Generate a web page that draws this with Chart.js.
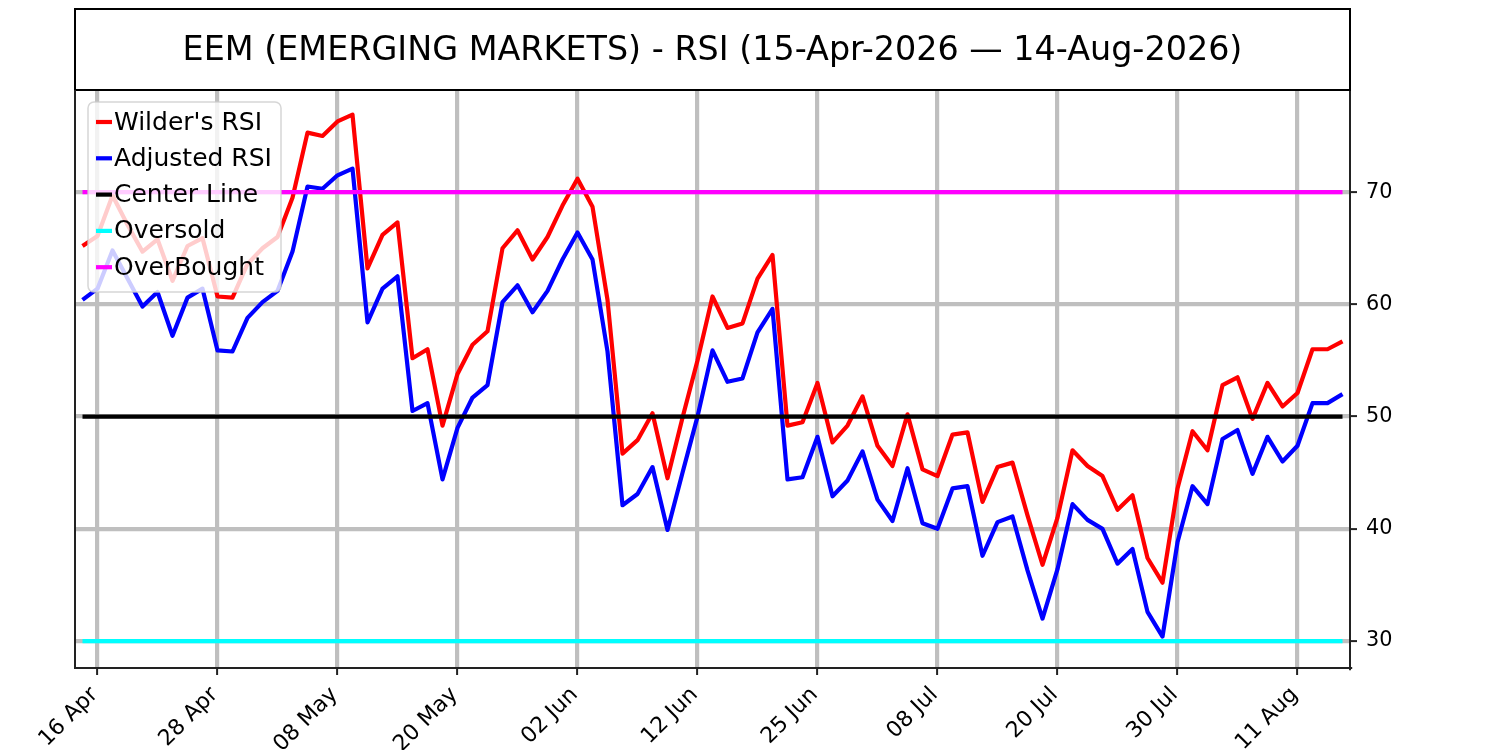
<!DOCTYPE html>
<html>
<head>
<meta charset="utf-8">
<script src="https://cdn.jsdelivr.net/npm/chart.js@4.4.1/dist/chart.umd.min.js"></script>
<style>
  body { margin: 0; background: #fff; }
  #wrap { width: 1500px; height: 750px; }
</style>
</head>
<body>
<div id="wrap"><canvas id="mycanvas" width="1500" height="750"></canvas></div>
<script>
// trading days, 15-Apr-2026 .. 14-Aug-2026
var days = [
  '15 Apr','16 Apr','17 Apr','20 Apr','21 Apr','22 Apr','23 Apr','24 Apr','27 Apr','28 Apr','29 Apr','30 Apr',
  '01 May','04 May','05 May','06 May','07 May','08 May','11 May','12 May','13 May','14 May','15 May','18 May',
  '19 May','20 May','21 May','22 May','26 May','27 May','28 May','29 May',
  '01 Jun','02 Jun','03 Jun','04 Jun','05 Jun','08 Jun','09 Jun','10 Jun','11 Jun','12 Jun','15 Jun','16 Jun',
  '17 Jun','18 Jun','22 Jun','23 Jun','24 Jun','25 Jun','26 Jun','29 Jun','30 Jun',
  '01 Jul','02 Jul','06 Jul','07 Jul','08 Jul','09 Jul','10 Jul','13 Jul','14 Jul','15 Jul','16 Jul','17 Jul',
  '20 Jul','21 Jul','22 Jul','23 Jul','24 Jul','27 Jul','28 Jul','29 Jul','30 Jul','31 Jul',
  '03 Aug','04 Aug','05 Aug','06 Aug','07 Aug','10 Aug','11 Aug','12 Aug','13 Aug','14 Aug'
];
var tickLabels = ['16 Apr','28 Apr','08 May','20 May','02 Jun','12 Jun','25 Jun','08 Jul','20 Jul','30 Jul','11 Aug'];

var wilderRsi = [
  65.2, 66.1, 69.7, 67.1, 64.7, 65.8, 62.1, 65.2, 65.9, 60.7, 60.6, 63.6,
  65.0, 66.0, 69.5, 75.3, 75.0, 76.3, 76.9, 63.2, 66.2, 67.3, 55.2, 56.0,
  49.2, 53.8, 56.4, 57.6, 65.0, 66.6, 64.0, 66.0,
  68.8, 71.2, 68.7, 60.4, 46.7, 47.9, 50.3, 44.5, 49.9, 55.0, 60.7, 57.9,
  58.3, 62.3, 64.4, 49.2, 49.5, 53.0, 47.7, 49.2, 51.8,
  47.4, 45.6, 50.2, 45.3, 44.7, 48.4, 48.6, 42.4, 45.5, 45.9, 41.2, 36.8,
  41.0, 47.0, 45.6, 44.7, 41.7, 43.0, 37.4, 35.2, 43.6, 48.7,
  47.0, 52.8, 53.5, 49.8, 53.0, 50.9, 52.1, 56.0, 56.0, 56.7
];
var adjustedRsi = [
  60.4, 61.4, 64.8, 62.3, 59.8, 61.1, 57.2, 60.6, 61.4, 55.9, 55.8, 58.8,
  60.2, 61.2, 64.7, 70.5, 70.3, 71.5, 72.1, 58.4, 61.4, 62.5, 50.5, 51.2,
  44.4, 49.0, 51.7, 52.8, 60.2, 61.7, 59.3, 61.2,
  64.0, 66.4, 64.0, 55.8, 42.1, 43.1, 45.5, 39.9, 45.0, 50.0, 55.9, 53.1,
  53.4, 57.5, 59.6, 44.4, 44.6, 48.2, 42.9, 44.3, 46.9,
  42.6, 40.7, 45.4, 40.5, 40.0, 43.6, 43.8, 37.6, 40.6, 41.1, 36.3, 32.0,
  36.4, 42.2, 40.8, 40.0, 36.9, 38.2, 32.6, 30.4, 38.8, 43.8,
  42.2, 48.0, 48.8, 44.9, 48.2, 46.0, 47.4, 51.2, 51.2, 52.0
];
var centerLevel = 50;
var oversoldLevel = 30;
var overboughtLevel = 70;
var yTicks = [30, 40, 50, 60, 70];

var titleText = 'EEM (EMERGING MARKETS) - RSI (15-Apr-2026 \u2014 14-Aug-2026)';

Chart.defaults.font.family = 'DejaVu Sans';
Chart.defaults.font.size = 20;
Chart.defaults.color = '#000';

function flat(v) {
  return days.map(function() { return v; });
}

function isTickDay(idx) {
  return tickLabels.indexOf(days[idx]) !== -1;
}

// title box, frame and the legend drawn inside the plot
var decorations = {
  id: 'decorations',
  afterDraw: function(chart) {
    var c = chart.ctx, a = chart.chartArea;
    c.save();
    // title box
    c.strokeStyle = '#000';
    c.lineWidth = 2;
    c.strokeRect(a.left, 9, a.right - a.left, a.top - 9);
    c.fillStyle = '#000';
    c.font = '33.4px "DejaVu Sans"';
    c.textAlign = 'center';
    c.textBaseline = 'middle';
    c.fillText(titleText, (a.left + a.right) / 2, 51);
    // left spine
    c.strokeStyle = '#222';
    c.beginPath();
    c.moveTo(a.left, a.top);
    c.lineTo(a.left, a.bottom);
    c.stroke();

    // legend
    var x = 88, y = 102, w = 193, h = 190, r = 6;
    c.beginPath();
    c.moveTo(x + r, y);
    c.arcTo(x + w, y, x + w, y + h, r);
    c.arcTo(x + w, y + h, x, y + h, r);
    c.arcTo(x, y + h, x, y, r);
    c.arcTo(x, y, x + w, y, r);
    c.closePath();
    c.fillStyle = 'rgba(255,255,255,0.8)';
    c.fill();
    c.strokeStyle = 'rgba(204,204,204,0.8)';
    c.lineWidth = 1.5;
    c.stroke();

    c.font = '25px "DejaVu Sans"';
    c.textAlign = 'left';
    c.textBaseline = 'middle';
    chart.data.datasets.forEach(function(ds, i) {
      var ry = 122 + i * 36.3;
      c.strokeStyle = ds.borderColor;
      c.lineWidth = 4.2;
      c.lineCap = 'butt';
      c.beginPath();
      c.moveTo(96, ry);
      c.lineTo(112, ry);
      c.stroke();
      c.fillStyle = '#000';
      c.fillText(ds.label, 114, ry + 1);
    });
    c.restore();
  }
};

var ctx = document.getElementById('mycanvas');

var rsiChart = new Chart(ctx, {
  type: 'line',
  data: {
    labels: days,
    datasets: [
      { label: "Wilder's RSI", data: wilderRsi, borderColor: '#ff0000', borderWidth: 4.2, order: 5 },
      { label: 'Adjusted RSI', data: adjustedRsi, borderColor: '#0000ff', borderWidth: 4.2, order: 4 },
      { label: 'Center Line', data: flat(centerLevel), borderColor: '#000000', borderWidth: 4.2, order: 3 },
      { label: 'Oversold', data: flat(oversoldLevel), borderColor: '#00ffff', borderWidth: 4.2, order: 2 },
      { label: 'OverBought', data: flat(overboughtLevel), borderColor: '#ff00ff', borderWidth: 4.2, order: 1 }
    ]
  },
  options: {
    responsive: false,
    animation: false,
    devicePixelRatio: 1,
    layout: { padding: { left: 75, top: 90, right: 0, bottom: 0 } },
    elements: {
      line: { tension: 0, fill: false, borderJoinStyle: 'round', borderCapStyle: 'butt' },
      point: { radius: 0, hoverRadius: 0 }
    },
    plugins: {
      legend: { display: false },
      title: { display: false },
      tooltip: { enabled: false }
    },
    scales: {
      x: {
        type: 'category',
        offset: true,
        afterFit: function(scale) { scale.height = 82; },
        grid: {
          offset: false,
          color: function(c) { return isTickDay(c.index) ? '#bfbfbf' : 'rgba(0,0,0,0)'; },
          tickColor: function(c) { return isTickDay(c.index) ? '#222' : 'rgba(0,0,0,0)'; },
          lineWidth: 4.2,
          tickWidth: 2,
          tickLength: 7
        },
        border: { display: true, color: '#222', width: 2 },
        ticks: {
          autoSkip: false,
          maxRotation: 45,
          minRotation: 45,
          padding: 7,
          labelOffset: -3,
          font: { family: 'DejaVu Sans', size: 22 },
          color: '#000',
          callback: function(v, idx) { return isTickDay(idx) ? days[idx] : ''; }
        }
      },
      y: {
        position: 'right',
        min: 27.6,
        max: 79.1,
        afterFit: function(scale) { scale.width = 150; },
        afterBuildTicks: function(scale) {
          scale.ticks = yTicks.map(function(v) { return { value: v }; });
        },
        grid: { color: '#bfbfbf', lineWidth: 4.2, tickColor: '#222', tickWidth: 2, tickLength: 7 },
        border: { display: true, color: '#222', width: 2 },
        ticks: { padding: 9, font: { family: 'DejaVu Sans', size: 20.8 }, color: '#000' }
      }
    }
  },
  plugins: [decorations]
});
</script>
</body>
</html>
